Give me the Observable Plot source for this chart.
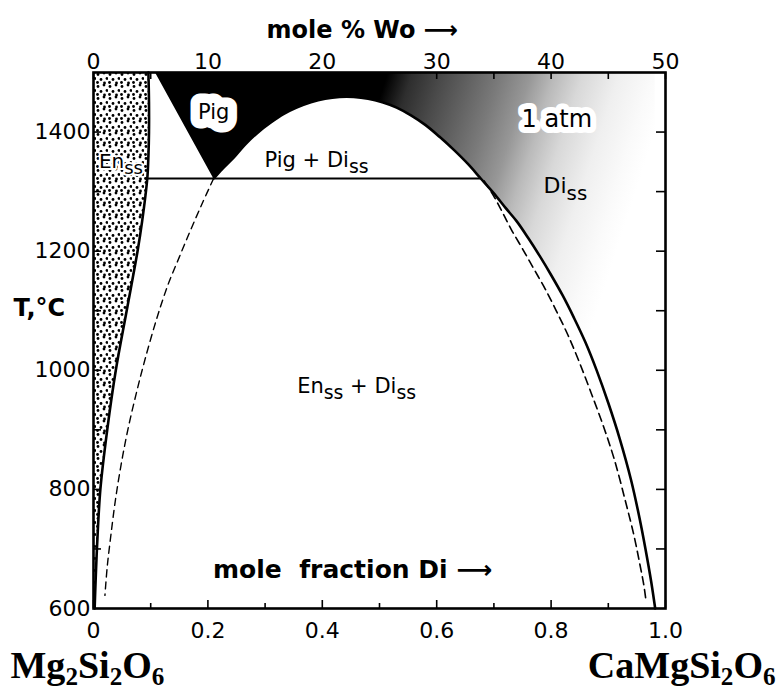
<!DOCTYPE html>
<html><head><meta charset="utf-8">
<script src="https://cdn.jsdelivr.net/npm/d3@7"></script>
<script src="https://cdn.jsdelivr.net/npm/@observablehq/plot@0.6"></script>
<style>
html,body{margin:0;padding:0;background:#fff;}
#chart svg{display:block;}
</style></head><body><div id="chart"></div>
<script>
// ---- data (x = mole fraction Di, T = °C) ----
const enssX = [0.096, 0.097, 0.097, 0.096, 0.094, 0.085, 0.077, 0.058, 0.039, 0.024, 0.012, 0.006, 0.002];
const enssT = [1500, 1450, 1400, 1360, 1322, 1250, 1200, 1100, 1000, 900, 800, 700, 600];

const pigEdgeX = [0.108, 0.21];
const pigEdgeT = [1500, 1322];

const solvusX = [0.21, 0.225, 0.245, 0.265, 0.287, 0.31, 0.332, 0.355, 0.38, 0.405, 0.43, 0.455, 0.48, 0.505, 0.53, 0.555, 0.58, 0.605, 0.63, 0.655, 0.677, 0.70, 0.72, 0.74, 0.76, 0.78, 0.80, 0.82, 0.84, 0.86, 0.88, 0.90, 0.92, 0.94, 0.955, 0.965, 0.975, 0.982];
const solvusT = [1322, 1338, 1357, 1379, 1399, 1416, 1430, 1441, 1450, 1456, 1459, 1459, 1456, 1450, 1441, 1428, 1412, 1392, 1370, 1346, 1322, 1297, 1273, 1250, 1222, 1192, 1160, 1126, 1088, 1047, 999, 945, 885, 815, 750, 700, 645, 600];

const dashLeftX = [0.21, 0.19, 0.17, 0.15, 0.13, 0.11, 0.09, 0.075, 0.06, 0.048, 0.038, 0.03, 0.024, 0.02];
const dashLeftT = [1322, 1280, 1236, 1190, 1143, 1085, 1018, 962, 900, 840, 780, 720, 670, 622];

const dashRightX = [0.683, 0.70, 0.715, 0.73, 0.75, 0.77, 0.79, 0.81, 0.83, 0.85, 0.87, 0.89, 0.91, 0.93, 0.945, 0.955, 0.962, 0.966];
const dashRightT = [1318, 1292, 1265, 1237, 1204, 1170, 1136, 1098, 1058, 1012, 962, 910, 852, 780, 722, 675, 640, 612];

const tieT = 1322;
const tieX = [0.094, 0.677];

const xLabelTicks = [0, 0.2, 0.4, 0.6, 0.8, 1.0];
const xMinorTicks = [0.1, 0.3, 0.5, 0.7, 0.9];
const yLabelTicks = [600, 800, 1000, 1200, 1400];
const yAllTicks = [700, 800, 900, 1000, 1100, 1200, 1300, 1400];

const regionText = ["Pig + Di_{ss}", "En_{ss} + Di_{ss}"];
const regionX = [0.39, 0.46];
const regionT = [1353, 973];

const enssLabel = ["En_{ss}"]; const enssLabelX = [0.048]; const enssLabelT = [1351];
const pigLabel = ["Pig"]; const pigLabelX = [0.21]; const pigLabelT = [1433];
const atmLabel = ["1 atm"]; const atmLabelX = [0.81]; const atmLabelT = [1421];
const dissLabel = ["Di_{ss}"]; const dissLabelX = [0.825]; const dissLabelT = [1309];
const bottomTitle = ["mole\u00a0 fraction\u00a0Di\u00a0⟶"]; const bottomTitleX = [0.453]; const bottomTitleT = [664];
const topTitle = ["mole\u00a0%\u00a0Wo\u00a0⟶"]; const topTitleX = [0.47];
const yTitle = ["T,°C"]; const yTitleT = [1104];
const leftFormula = ["Mg~{2}Si~{2}O~{6}"];
const rightFormula = ["CaMgSi~{2}O~{6}"];

// ---- tables ----
const enss = enssT.map((T, i) => ({x: enssX[i], T}));
const upper = [{x: pigEdgeX[0], T: pigEdgeT[0]}, ...solvusX.map((x, i) => ({x, T: solvusT[i]}))];
const solvus = solvusX.map((x, i) => ({x, T: solvusT[i]}));
const dashLeft = dashLeftX.map((x, i) => ({x, T: dashLeftT[i]}));
const dashRight = dashRightX.map((x, i) => ({x, T: dashRightT[i]}));
const mk = (t, xs, ts) => t.map((text, i) => ({text, x: xs[i], T: ts[i]}));

const W = 776, H = 695, mL = 93, mR = 111, mT = 72, mB = 87;
const pw = W - mL - mR, ph = H - mT - mB;
const FONT = "'DejaVu Sans', sans-serif";

const plot = Plot.plot({
  width: W, height: H,
  marginLeft: mL, marginRight: mR, marginTop: mT, marginBottom: mB,
  x: {domain: [0, 1]},
  y: {domain: [600, 1500]},
  style: {fontFamily: FONT, fontSize: "22px", background: "#fff", color: "#000"},
  marks: [
    Plot.areaX(enss, {y: "T", x1: 0, x2: "x", fill: "url(#enssDots)", curve: "catmull-rom"}),
    Plot.areaY(upper, {x: "x", y1: "T", y2: 1500, fill: "url(#dissGrad)"}),
    Plot.text(mk(atmLabel, atmLabelX, atmLabelT), {x: "x", y: "T", text: "text", fontSize: 24, stroke: "#fff", strokeWidth: 12, strokeLinejoin: "round", fill: "#000"}),
    Plot.line(dashLeft, {x: "x", y: "T", strokeWidth: 1.4, strokeDasharray: "7,5", curve: "catmull-rom"}),
    Plot.line(dashRight, {x: "x", y: "T", strokeWidth: 1.6, strokeDasharray: "8,5", curve: "catmull-rom"}),
    Plot.ruleY([tieT], {x1: tieX[0], x2: tieX[1], strokeWidth: 2}),
    Plot.line(enss, {x: "x", y: "T", strokeWidth: 2.6, curve: "catmull-rom"}),
    Plot.line(solvus, {x: "x", y: "T", strokeWidth: 2.6, curve: "catmull-rom"}),
    Plot.frame({strokeWidth: 2.6}),
    // inward ticks
    Plot.tickX(xLabelTicks, {x: d => d, insetTop: ph - 8, strokeWidth: 1.6}),
    Plot.tickX(xMinorTicks, {x: d => d, insetTop: ph - 5, strokeWidth: 1.6}),
    Plot.tickX([...xLabelTicks, ...xMinorTicks], {x: d => d, insetBottom: ph - 7, strokeWidth: 1.6}),
    Plot.tickY(yAllTicks, {y: d => d, insetRight: pw - 8, strokeWidth: 1.6}),
    Plot.tickY(yAllTicks, {y: d => d, insetLeft: pw - 9, strokeWidth: 1.6}),
    // axis labels
    Plot.axisX({anchor: "bottom", ticks: xLabelTicks, tickSize: 0, tickPadding: 14, label: null, fontSize: 22,
      tickFormat: d => d === 0 ? "0" : d3.format(".1f")(d)}),
    Plot.axisX({anchor: "top", ticks: xLabelTicks, tickSize: 0, tickPadding: 4, label: null, fontSize: 22,
      tickFormat: d => String(Math.round(d * 50))}),
    Plot.axisY({anchor: "left", ticks: yLabelTicks, tickSize: 0, tickPadding: 3, label: null, fontSize: 22,
      tickFormat: d => String(d)}),
    // region labels
    Plot.text(mk(pigLabel, pigLabelX, pigLabelT), {x: "x", y: "T", text: "text", fontSize: 21, stroke: "#fff", strokeWidth: 19, strokeLinejoin: "round", fill: "#000"}),
    Plot.text(mk(enssLabel, enssLabelX, enssLabelT), {x: "x", y: "T", text: "text", fontSize: 20, stroke: "#fff", strokeWidth: 4, strokeLinejoin: "round", fill: "#000"}),
    Plot.text(mk(regionText, regionX, regionT), {x: "x", y: "T", text: "text", fontSize: 21}),
    Plot.text(mk(dissLabel, dissLabelX, dissLabelT), {x: "x", y: "T", text: "text", fontSize: 22}),
    Plot.text(mk(bottomTitle, bottomTitleX, bottomTitleT), {x: "x", y: "T", text: "text", fontSize: 25, fontWeight: "bold"}),
    Plot.text(topTitle.map((t, i) => ({text: t, x: topTitleX[i]})), {x: "x", text: "text", frameAnchor: "top", lineAnchor: "middle", dy: -42, fontSize: 24, fontWeight: "bold"}),
    Plot.text(yTitle.map((t, i) => ({text: t, T: yTitleT[i]})), {y: "T", text: "text", frameAnchor: "left", dx: -80, textAnchor: "start", fontSize: 24, fontWeight: "bold"}),
    Plot.text(leftFormula, {text: d => d, frameAnchor: "bottom-left", lineAnchor: "middle", dx: -83, dy: 57, textAnchor: "start", fontSize: 38, fontWeight: "bold", fontFamily: "'Liberation Serif', serif"}),
    Plot.text(rightFormula, {text: d => d, frameAnchor: "bottom-right", lineAnchor: "middle", dx: 110, dy: 57, textAnchor: "end", fontSize: 38, fontWeight: "bold", fontFamily: "'Liberation Serif', serif"})
  ]
});

// ---- defs: stipple pattern & Di_ss shading gradient (placed with the plot's scales) ----
const NS = "http://www.w3.org/2000/svg";
const sx = plot.scale("x"), sy = plot.scale("y");
const defs = document.createElementNS(NS, "defs");
const pat = document.createElementNS(NS, "pattern");
pat.setAttribute("id", "enssDots");
pat.setAttribute("patternUnits", "userSpaceOnUse");
pat.setAttribute("width", "12"); pat.setAttribute("height", "12");
const bg = document.createElementNS(NS, "rect");
bg.setAttribute("width", "12"); bg.setAttribute("height", "12"); bg.setAttribute("fill", "#fff");
pat.appendChild(bg);
[[2, 2.5], [8, 1], [5, 7.5], [11, 6.5], [1.5, 10.5], [8.5, 11]].forEach(([cx, cy]) => {
  const c = document.createElementNS(NS, "circle");
  c.setAttribute("cx", cx); c.setAttribute("cy", cy); c.setAttribute("r", "1.4"); c.setAttribute("fill", "#000");
  pat.appendChild(c);
});
defs.appendChild(pat);

const grad = document.createElementNS(NS, "linearGradient");
grad.setAttribute("id", "dissGrad");
grad.setAttribute("gradientUnits", "userSpaceOnUse");
grad.setAttribute("x1", sx.apply(0.484)); grad.setAttribute("y1", sy.apply(1500));
grad.setAttribute("x2", sx.apply(0.966)); grad.setAttribute("y2", sy.apply(1349));
[[0, "#000"], [0.06, "#000"], [0.14, "#2e2e2e"], [0.24, "#4a4a4a"], [0.43, "#7a7a7a"], [0.53, "#979797"], [0.61, "#bababa"], [0.70, "#d8d8d8"], [0.82, "#efefef"], [0.93, "#fafafa"], [1, "#fff"]]
  .forEach(([o, c]) => {
    const s = document.createElementNS(NS, "stop");
    s.setAttribute("offset", o); s.setAttribute("stop-color", c);
    grad.appendChild(s);
  });
defs.appendChild(grad);
plot.insertBefore(defs, plot.firstChild);

// ---- subscripts: _{..} (label subscript), ~{..} (formula subscript) ----
plot.querySelectorAll("text").forEach(t => {
  const s = t.textContent;
  if (!/[_~]\{/.test(s)) return;
  while (t.firstChild) t.removeChild(t.firstChild);
  const re = /([_~])\{([^}]*)\}/g;
  let last = 0, m, pendingUp = null;
  const add = (str, kind) => {
    const ts = document.createElementNS(NS, "tspan");
    ts.textContent = str;
    if (kind === "_") { ts.style.fontSize = "0.9em"; ts.setAttribute("dy", "0.33em"); pendingUp = "-0.3em"; }
    else if (kind === "~") { ts.style.fontSize = "0.66em"; ts.setAttribute("dy", "0.3em"); pendingUp = "-0.2em"; }
    else if (pendingUp) { ts.setAttribute("dy", pendingUp); pendingUp = null; }
    t.appendChild(ts);
  };
  while ((m = re.exec(s))) {
    if (m.index > last) add(s.slice(last, m.index));
    add(m[2], m[1]);
    last = re.lastIndex;
  }
  if (last < s.length) add(s.slice(last));
});

document.getElementById("chart").appendChild(plot);
</script></body></html>
